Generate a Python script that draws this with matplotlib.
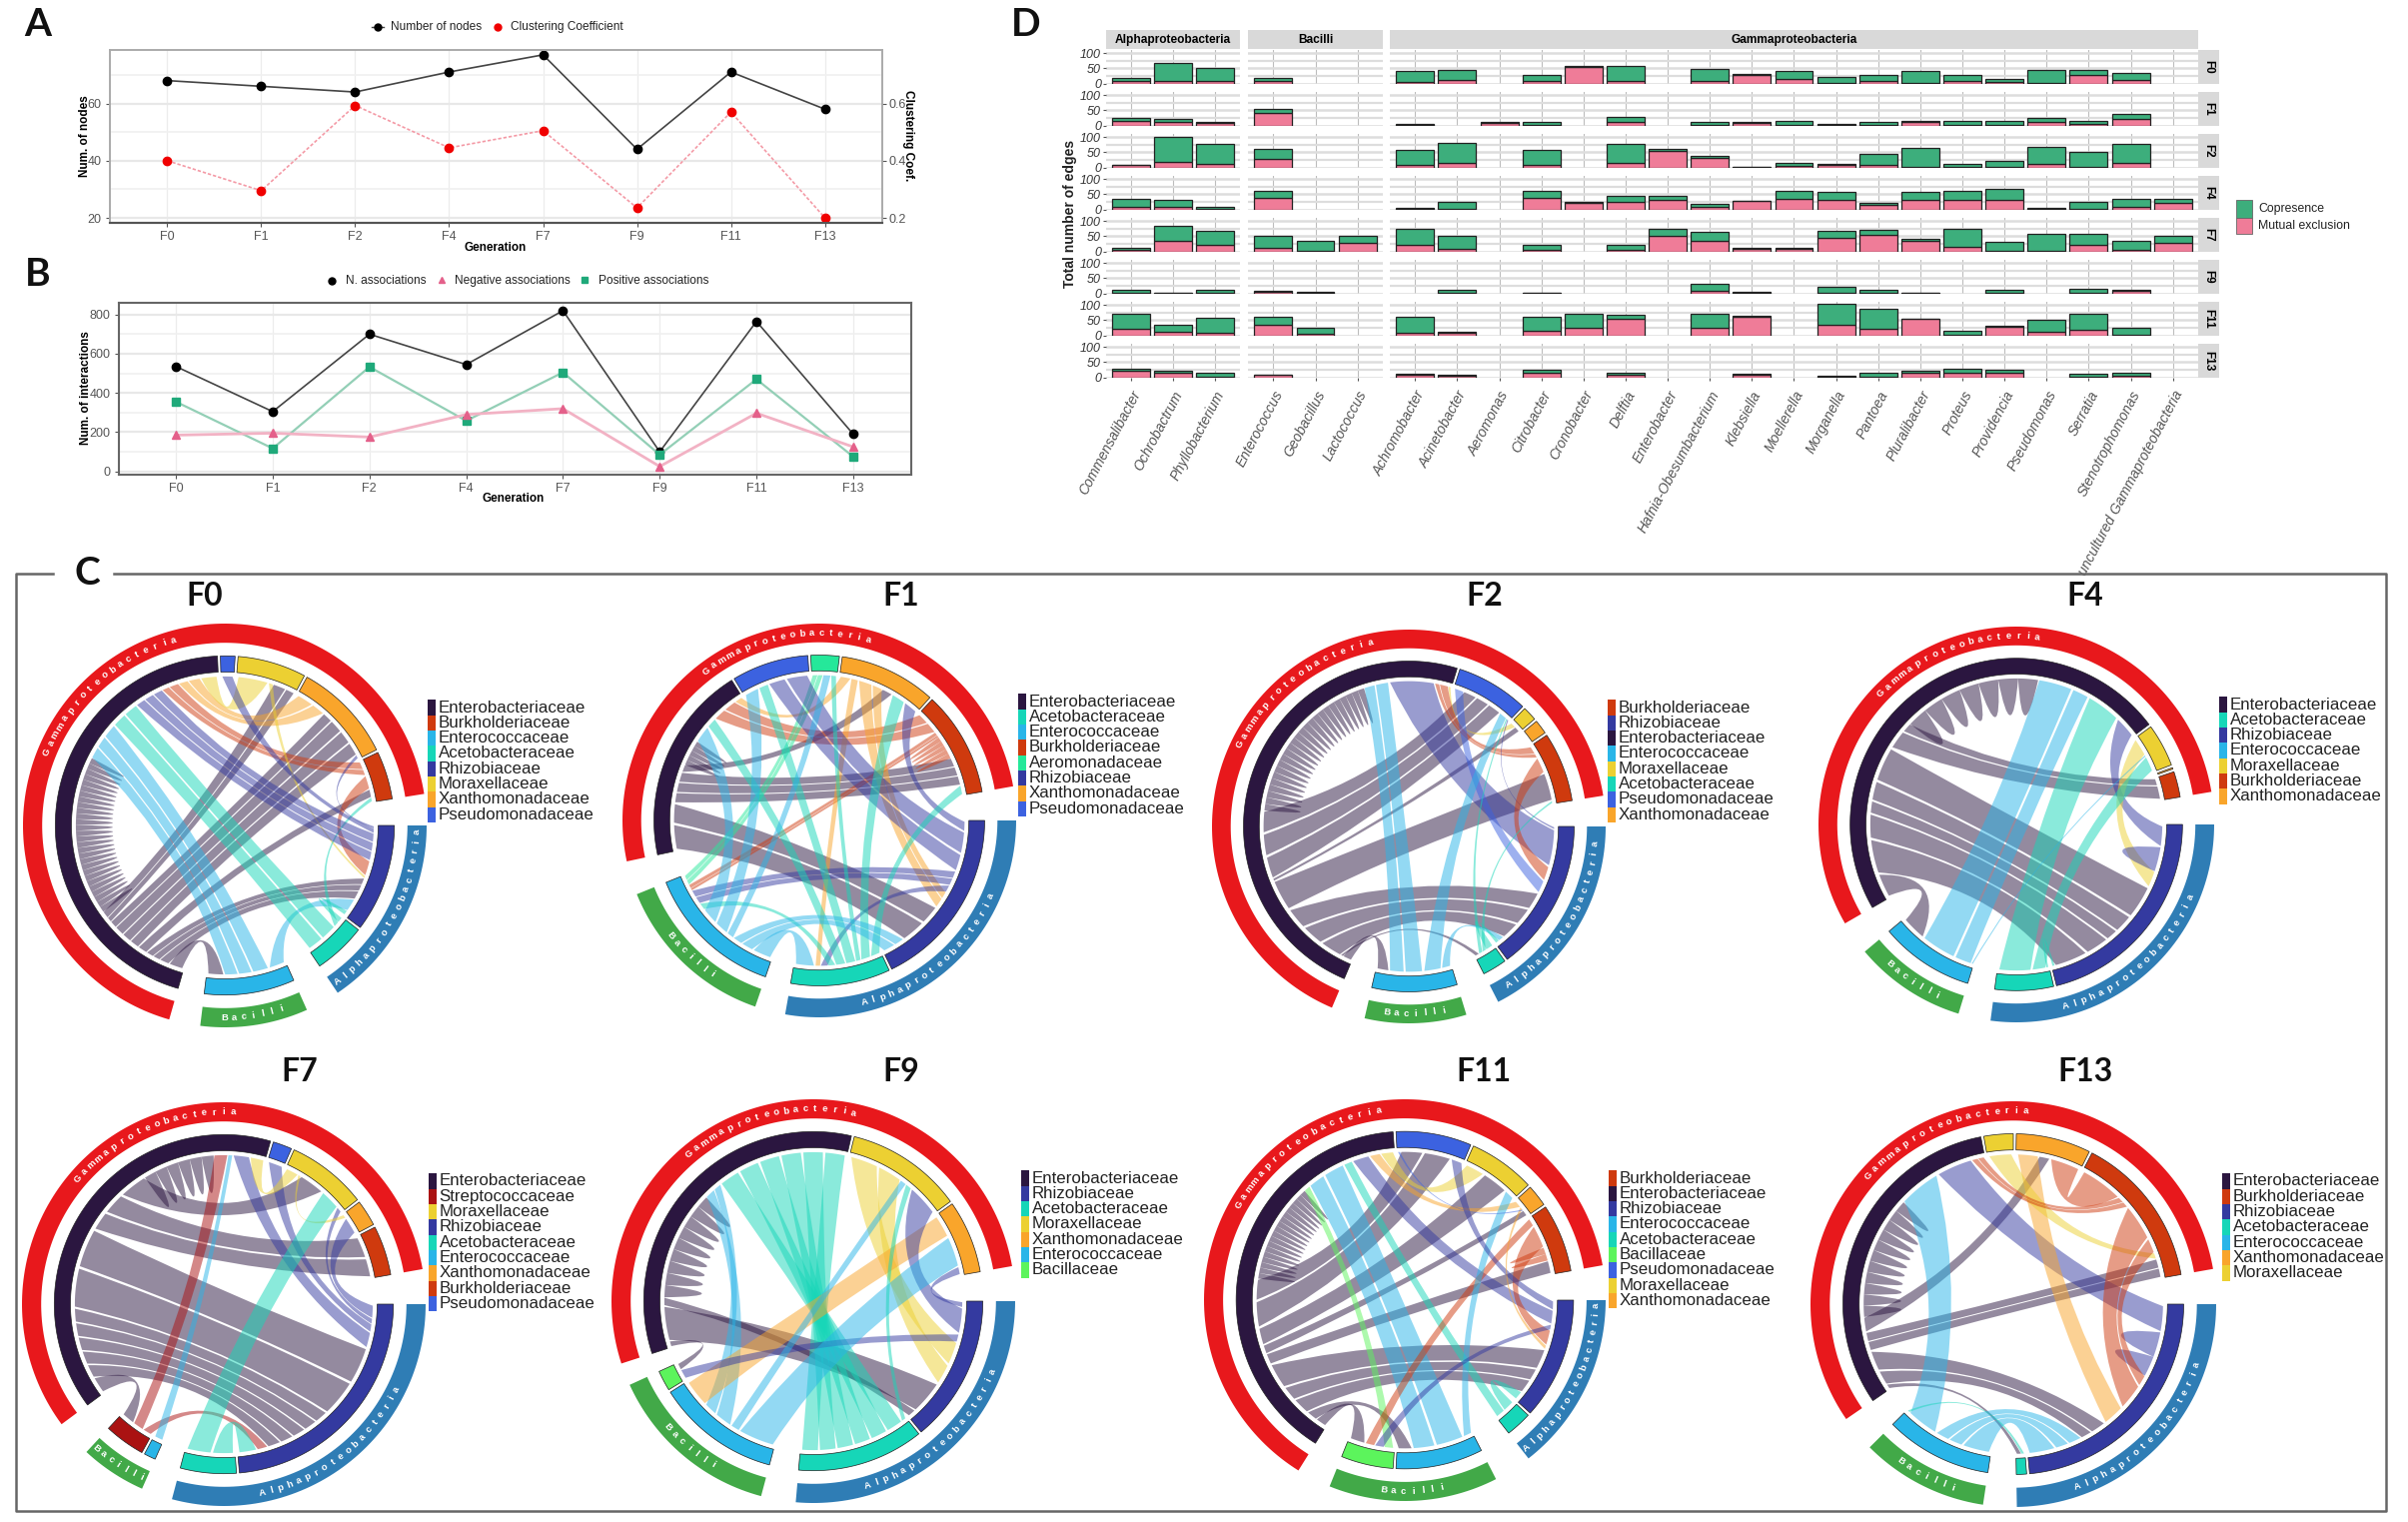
import numpy as np
import matplotlib
matplotlib.use("Agg")
import matplotlib.pyplot as plt
from matplotlib.patches import PathPatch, Rectangle
from matplotlib.path import Path

plt.rcParams['font.family'] = ['Liberation Sans', 'DejaVu Sans']

W, H = 2410, 1523

# panel A / B
generations = ["F0", "F1", "F2", "F4", "F7", "F9", "F11", "F13"]
num_nodes = [68, 66, 64, 71, 77, 44, 71, 58]
clustering = [0.40, 0.295, 0.593, 0.445, 0.505, 0.235, 0.57, 0.2]
n_assoc = [535, 305, 700, 545, 820, 100, 765, 190]
neg_assoc = [185, 195, 175, 290, 320, 25, 297, 125]
pos_assoc = [355, 117, 533, 258, 505, 85, 470, 75]

# panel D
genus_alpha = ["Commensalibacter", "Ochrobactrum", "Phyllobacterium"]
genus_bacilli = ["Enterococcus", "Geobacillus", "Lactococcus"]
genus_gamma = ["Achromobacter", "Acinetobacter", "Aeromonas", "Citrobacter", "Cronobacter",
               "Delftia", "Enterobacter", "Hafnia-Obesumbacterium", "Klebsiella", "Moellerella",
               "Morganella", "Pantoea", "Pluralibacter", "Proteus", "Providencia", "Pseudomonas",
               "Serratia", "Stenotrophomonas", "uncultured Gammaproteobacteria"]

mutual_f0 = [10, 8, 9, 10, 0, 0, 5, 12, 0, 10, 55, 10, 0, 10, 27, 15, 2, 9, 1, 9, 6, 1, 28, 12, 0]
copres_f0 = [8, 59, 41, 8, 0, 0, 36, 33, 0, 17, 2, 47, 0, 38, 5, 26, 18, 19, 40, 19, 8, 42, 17, 23, 0]
mutual_f1 = [16, 11, 8, 41, 0, 0, 2, 0, 9, 3, 0, 11, 0, 1, 7, 2, 3, 2, 13, 2, 2, 12, 4, 20, 0]
copres_f1 = [8, 9, 4, 13, 0, 0, 2, 0, 2, 8, 0, 16, 0, 12, 4, 14, 3, 9, 3, 14, 14, 12, 12, 17, 0]
mutual_f2 = [7, 17, 12, 27, 0, 0, 8, 15, 0, 7, 0, 14, 55, 32, 1, 5, 8, 10, 1, 3, 3, 12, 2, 14, 0]
copres_f2 = [2, 84, 65, 34, 0, 0, 50, 67, 0, 51, 0, 64, 6, 7, 2, 10, 5, 35, 63, 8, 17, 56, 49, 64, 0]
mutual_f4 = [7, 8, 3, 37, 0, 0, 3, 1, 0, 37, 22, 24, 31, 9, 28, 34, 30, 16, 33, 33, 33, 2, 3, 10, 22]
copres_f4 = [28, 23, 4, 24, 0, 0, 3, 24, 0, 24, 3, 22, 15, 8, 1, 28, 27, 7, 24, 27, 34, 2, 21, 26, 14]
mutual_f7 = [6, 34, 20, 12, 1, 28, 20, 8, 0, 5, 0, 4, 52, 34, 9, 10, 43, 55, 35, 16, 1, 1, 20, 5, 28]
copres_f7 = [6, 51, 47, 39, 35, 23, 54, 43, 0, 18, 0, 17, 22, 31, 3, 3, 23, 16, 7, 58, 32, 56, 37, 31, 23]
mutual_f9 = [1, 1, 1, 4, 2, 0, 0, 1, 0, 1, 0, 0, 0, 9, 3, 0, 1, 2, 2, 0, 1, 0, 2, 8, 0]
copres_f9 = [12, 2, 12, 6, 2, 0, 0, 11, 0, 2, 0, 0, 0, 21, 3, 0, 19, 9, 1, 0, 10, 0, 13, 3, 0]
mutual_f11 = [22, 12, 10, 35, 5, 0, 10, 9, 0, 15, 25, 55, 0, 25, 60, 0, 35, 22, 54, 1, 29, 12, 18, 3, 0]
copres_f11 = [49, 22, 47, 25, 21, 0, 50, 3, 0, 45, 47, 12, 0, 46, 3, 0, 70, 64, 1, 14, 1, 38, 53, 23, 0]
mutual_f13 = [21, 15, 3, 7, 0, 0, 7, 4, 0, 14, 0, 7, 0, 0, 9, 0, 2, 1, 15, 16, 14, 0, 2, 4, 0]
copres_f13 = [7, 6, 11, 2, 0, 0, 4, 5, 0, 10, 0, 7, 0, 0, 3, 0, 3, 14, 8, 12, 12, 0, 10, 11, 0]

# panel C: short names for the families
ENT, BUR, ENC, ACE, RHI = "Enterobacteriaceae", "Burkholderiaceae", "Enterococcaceae", "Acetobacteraceae", "Rhizobiaceae"
MOR, XAN, PSE, AER, BAC, STR = "Moraxellaceae", "Xanthomonadaceae", "Pseudomonadaceae", "Aeromonadaceae", "Bacillaceae", "Streptococcaceae"

family_color = {ENT: "#2b1640", BUR: "#cf3a0e", ENC: "#29b5e8", ACE: "#16d6b8", RHI: "#343aa0", MOR: "#ecd032",
                XAN: "#f9a52b", PSE: "#3c62e0", AER: "#25e89a", BAC: "#5cf45c", STR: "#aa1212"}
family_group = {ENT: "Gammaproteobacteria", BUR: "Gammaproteobacteria", MOR: "Gammaproteobacteria",
                XAN: "Gammaproteobacteria", PSE: "Gammaproteobacteria", AER: "Gammaproteobacteria",
                RHI: "Alphaproteobacteria", ACE: "Alphaproteobacteria",
                ENC: "Bacilli", BAC: "Bacilli", STR: "Bacilli"}
group_color = {"Gammaproteobacteria": "#e8181c", "Alphaproteobacteria": "#2f7db5", "Bacilli": "#42a948"}

# sector sizes in degrees, clockwise from the start of Gammaproteobacteria
f0_sectors = [(ENT, 161.5), (PSE, 5), (MOR, 23.5), (XAN, 34.5), (BUR, 16.5), (RHI, 37), (ACE, 18), (ENC, 31)]
f1_sectors = [(ENT, 70), (PSE, 27), (AER, 10), (XAN, 34), (BUR, 37), (RHI, 64), (ACE, 35), (ENC, 49)]
f2_sectors = [(ENT, 174), (PSE, 25.5), (MOR, 5), (XAN, 5), (BUR, 24.5), (RHI, 53.5), (ACE, 8.5), (ENC, 30)]
f4_sectors = [(ENT, 173), (MOR, 15), (XAN, 0.5), (BUR, 9), (RHI, 76), (ACE, 20.5), (ENC, 33)]
f7_sectors = [(ENT, 142.5), (PSE, 6.5), (MOR, 27.5), (XAN, 9), (BUR, 17), (RHI, 84.7), (ACE, 19.2), (ENC, 4), (STR, 14)]
f9_sectors = [(ENT, 121), (MOR, 40), (XAN, 25), (RHI, 50.5), (ACE, 43.5), (ENC, 42.5), (BAC, 7)]
f11_sectors = [(ENT, 144), (PSE, 26), (MOR, 23), (XAN, 7.5), (BUR, 23.5), (RHI, 42), (ACE, 9), (ENC, 30), (BAC, 18)]
f13_sectors = [(ENT, 113.5), (MOR, 10), (XAN, 25.5), (BUR, 52.5), (RHI, 84.5), (ACE, 3.5), (ENC, 36.5)]

# links: from family, to family, weight
f0_links = [(ENT, ENT, 65), (ENT, ENC, 6), (ENT, RHI, 4), (ENT, RHI, 3), (ENT, RHI, 3), (ENT, BUR, 4), (ENT, XAN, 4),
            (ENT, XAN, 4), (ENT, XAN, 4), (ENT, XAN, 3), (ENT, MOR, 2), (ENT, MOR, 3), (BUR, ENT, 4), (BUR, ENT, 3),
            (BUR, RHI, 7), (XAN, ENT, 5), (XAN, ENT, 4), (MOR, ENT, 7), (MOR, RHI, 1), (ENC, ENT, 6), (ENC, ENT, 5),
            (ENC, ENT, 5), (ENC, RHI, 6), (ACE, ENT, 6), (ACE, ENT, 6), (ACE, RHI, 2), (ACE, BUR, 2), (RHI, ENT, 4),
            (RHI, ENT, 4), (RHI, ENT, 4), (RHI, PSE, 2), (RHI, XAN, 1)]
f1_links = [(ENT, ENT, 10), (ENT, RHI, 10), (ENT, RHI, 8), (ENT, BUR, 4), (ENT, BUR, 4), (ENT, BUR, 4), (ENT, XAN, 3),
            (BUR, ENT, 5), (BUR, ENT, 5), (BUR, ENC, 1.5), (BUR, ENC, 1), (BUR, BUR, 10), (XAN, ENT, 3), (XAN, RHI, 4),
            (XAN, RHI, 3), (XAN, ACE, 2), (AER, ENC, 2), (AER, ENC, 2), (RHI, PSE, 9), (RHI, PSE, 7), (RHI, XAN, 4),
            (RHI, ENC, 3), (RHI, ENC, 3), (RHI, ACE, 3), (ACE, ENT, 4), (ACE, PSE, 4), (ACE, AER, 2), (ACE, XAN, 4),
            (ACE, BUR, 4), (ACE, ENC, 3), (ENC, ENT, 7), (ENC, PSE, 6), (ENC, AER, 3), (ENC, RHI, 5), (ENC, RHI, 4), (ENC, ACE, 8)]
f2_links = [(ENT, ENT, 72), (ENT, ENC, 4), (ENT, RHI, 10), (ENT, RHI, 10), (ENT, RHI, 10), (ENT, BUR, 14), (ENT, PSE, 10),
            (ENT, PSE, 10), (ENT, PSE, 10), (ENT, MOR, 1), (ENT, ACE, 1), (RHI, ENT, 20), (MOR, ENT, 1), (BUR, ENT, 4),
            (BUR, ENT, 2), (ENC, ENT, 6), (ENC, ENT, 5), (PSE, RHI, 7), (RHI, PSE, 1), (ENC, PSE, 6), (ACE, PSE, 1),
            (BUR, RHI, 8), (ENC, RHI, 3), (ACE, RHI, 2), (ACE, BUR, 1)]
f4_links = [(ENT, ENT, 55), (ENT, ENC, 10), (ENT, RHI, 14), (ENT, RHI, 10), (ENT, RHI, 5), (ENT, RHI, 8), (ENT, RHI, 14),
            (ENT, BUR, 8), (ENT, BUR, 4), (ENC, ENT, 7), (ACE, ENT, 14), (ENC, ENT, 14), (RHI, ENT, 9), (MOR, RHI, 7),
            (ACE, MOR, 6), (RHI, RHI, 10), (ENC, MOR, 0.5), (ACE, RHI, 1)]
f7_links = [(ENT, ENT, 25), (ENT, STR, 6), (ENT, RHI, 5), (ENT, RHI, 5), (ENT, RHI, 5), (ENT, RHI, 5), (ENT, RHI, 5),
            (ENT, RHI, 14), (ENT, RHI, 14), (ENT, BUR, 7), (ENT, BUR, 8), (ENT, MOR, 10), (RHI, ENT, 6), (RHI, PSE, 3),
            (RHI, MOR, 2), (RHI, XAN, 5), (MOR, ENT, 5), (MOR, XAN, 1), (STR, ENT, 5), (STR, RHI, 4), (ENC, ENT, 1.5),
            (ACE, MOR, 8), (ACE, RHI, 7)]
f9_links = [(ENT, ENT, 40), (ENT, BAC, 2), (ENT, RHI, 13), (ENT, RHI, 3), (ACE, ENT, 8), (ACE, ENT, 8), (ACE, ENT, 8),
            (ACE, ENT, 8), (ACE, ENT, 8), (ACE, ENT, 8), (ENC, ENT, 4), (ENC, ENT, 3), (MOR, RHI, 9), (MOR, RHI, 8),
            (XAN, ENC, 6), (RHI, MOR, 10), (RHI, XAN, 2), (RHI, BAC, 3), (ENC, XAN, 8), (ENC, MOR, 2), (ACE, MOR, 2)]
f11_links = [(ENT, ENT, 45), (ENT, BAC, 5), (ENT, ENC, 5), (ENT, RHI, 8), (ENT, RHI, 7), (ENT, RHI, 12), (ENT, BUR, 5),
             (ENT, XAN, 4), (ENT, MOR, 8), (ENT, PSE, 12), (ENT, PSE, 10), (RHI, ENT, 8), (ENC, ENT, 10), (ENC, ENT, 8),
             (ACE, ENT, 4), (BAC, ENT, 3), (MOR, ENT, 6), (XAN, ENT, 5), (BUR, BAC, 3), (BUR, RHI, 9), (BUR, BUR, 5),
             (ENC, MOR, 3), (RHI, BAC, 3), (RHI, PSE, 5), (XAN, RHI, 2), (ACE, RHI, 5), (PSE, XAN, 1)]
f13_links = [(ENT, ENT, 40), (ENT, ACE, 1.5), (ENT, RHI, 5), (ENT, RHI, 7), (ENT, BUR, 3), (ENT, BUR, 3), (ENT, XAN, 5),
             (RHI, ENT, 12), (RHI, RHI, 11), (RHI, RHI, 9), (ENC, ENT, 14), (ENC, RHI, 12), (ENC, RHI, 6), (ENC, RHI, 6),
             (XAN, RHI, 10), (MOR, BUR, 2), (BUR, ENT, 2), (BUR, ENT, 2), (BUR, XAN, 14), (BUR, RHI, 12), (BUR, RHI, 5),
             (ACE, ENC, 1)]

# legends, in the order of the picture
f0_legend = [ENT, BUR, ENC, ACE, RHI, MOR, XAN, PSE]
f1_legend = [ENT, ACE, ENC, BUR, AER, RHI, XAN, PSE]
f2_legend = [BUR, RHI, ENT, ENC, MOR, ACE, PSE, XAN]
f4_legend = [ENT, ACE, RHI, ENC, MOR, BUR, XAN]
f7_legend = [ENT, STR, MOR, RHI, ACE, ENC, XAN, BUR, PSE]
f9_legend = [ENT, RHI, ACE, MOR, XAN, ENC, BAC]
f11_legend = [BUR, ENT, RHI, ENC, ACE, BAC, PSE, MOR, XAN]
f13_legend = [ENT, BUR, RHI, ACE, ENC, XAN, MOR]


def axes_px(fig, x0, y0, x1, y1):
    return fig.add_axes([x0 / W, 1 - y1 / H, (x1 - x0) / W, (y1 - y0) / H])


def style_line_axes(ax, xlim, ylim, major, minor):
    ax.set_xlim(*xlim)
    ax.set_ylim(*ylim)
    ax.set_xticks(range(len(generations)))
    ax.set_xticklabels(generations)
    ax.set_yticks(major)
    ax.set_yticks(minor, minor=True)
    ax.grid(True, which="major", axis="y", color="#e8e8e8", lw=1.6)
    ax.grid(True, which="major", axis="x", color="#ececec", lw=0.9)
    ax.grid(True, which="minor", axis="y", color="#f0f0f0", lw=1.2)
    ax.set_axisbelow(True)
    ax.tick_params(axis="both", which="major", labelsize=9, labelcolor="#555555", color="#555555", length=3, pad=3)
    ax.tick_params(axis="y", which="minor", length=0)


fig = plt.figure(figsize=(W / 100, H / 100), dpi=100)
ov = fig.add_axes([0, 0, 1, 1], zorder=5)
ov.set_xlim(0, W)
ov.set_ylim(H, 0)
ov.axis("off")

# --- A
ax_a = axes_px(fig, 110, 50, 883, 223)
style_line_axes(ax_a, (-0.61, 7.61), (18.26, 78.7), [20, 40, 60], [30, 50, 70])
ax_a.plot(range(8), num_nodes, color="#444444", lw=1.2, marker="o", ms=6, mfc="black", mec="black")
ax_a2 = ax_a.twinx()
ax_a2.set_ylim(0.1826, 0.787)
ax_a2.set_yticks([0.2, 0.4, 0.6])
ax_a2.tick_params(axis="y", labelsize=9, labelcolor="#555555", color="#555555", length=3, pad=2)
ax_a2.plot(range(8), clustering, color="#f49aa6", lw=1.2, ls=(0, (2, 1.2)), marker="o", ms=6, mfc="#f00000", mec="#f00000")
for a in (ax_a, ax_a2):
    for s in a.spines.values():
        s.set_color("#aaaaaa")
        s.set_linewidth(1.2)
    a.spines["bottom"].set_color("#555555")
    a.spines["bottom"].set_linewidth(1.5)

ov.plot([372, 384], [27, 27], color="#444444", lw=1)
ov.plot([378], [27], "o", color="black", ms=5)
ov.text(391, 27, "Number of nodes", fontsize=8.6, color="#222222", va="center")
ov.plot([498], [27], "o", color="#f00000", ms=5)
ov.text(511, 27, "Clustering Coefficient", fontsize=8.6, color="#222222", va="center")
ov.text(85, 136, "Num. of nodes", fontsize=8.5, fontweight="bold", rotation=90, ha="center", va="center")
ov.text(909, 136, "Clustering Coef.", fontsize=8.5, fontweight="bold", rotation=270, ha="center", va="center")
ov.text(496, 248, "Generation", fontsize=8.5, fontweight="bold", ha="center", va="center")

# --- B
ax_b = axes_px(fig, 119, 303, 912, 475)
style_line_axes(ax_b, (-0.59, 7.6), (-17, 860), [0, 200, 400, 600, 800], [100, 300, 500, 700])
ax_b.plot(range(8), n_assoc, color="#444444", lw=1.2, marker="o", ms=6, mfc="black", mec="black", zorder=3)
ax_b.plot(range(8), pos_assoc, color="#93cfb6", lw=1.6, marker="s", ms=6, mfc="#1fa97a", mec="#1fa97a", zorder=4)
ax_b.plot(range(8), neg_assoc, color="#f2b2c4", lw=2, marker="^", ms=6, mfc="#e4608a", mec="#e4608a", zorder=5)
for s in ax_b.spines.values():
    s.set_color("#666666")
    s.set_linewidth(1.5)
ov.plot([332], [281], "o", color="black", ms=5)
ov.text(346, 281, "N. associations", fontsize=8.6, color="#222222", va="center")
ov.plot([442], [280], "^", color="#e4608a", ms=5)
ov.text(455, 281, "Negative associations", fontsize=8.6, color="#222222", va="center")
ov.plot([585], [280], "s", color="#1fa97a", ms=5)
ov.text(599, 281, "Positive associations", fontsize=8.6, color="#222222", va="center")
ov.text(86, 388, "Num. of interactions", fontsize=8.5, fontweight="bold", rotation=90, ha="center", va="center")
ov.text(514, 499, "Generation", fontsize=8.5, fontweight="bold", ha="center", va="center")

# --- D
d_rows = [("F0", mutual_f0, copres_f0), ("F1", mutual_f1, copres_f1), ("F2", mutual_f2, copres_f2),
          ("F4", mutual_f4, copres_f4), ("F7", mutual_f7, copres_f7), ("F9", mutual_f9, copres_f9),
          ("F11", mutual_f11, copres_f11), ("F13", mutual_f13, copres_f13)]
d_cols = [("Alphaproteobacteria", genus_alpha, 1107, 1241, 0), ("Bacilli", genus_bacilli, 1249, 1384, 3),
          ("Gammaproteobacteria", genus_gamma, 1391, 2200, 6)]
GREEN, PINK = "#3dae7c", "#ef7c98"

for r, (gen, mutual, copres) in enumerate(d_rows):
    top = 50 + 42 * r
    for c, (name, genera, x0, x1, first) in enumerate(d_cols):
        ax = axes_px(fig, x0, top, x1, top + 34.2)
        m = np.array(mutual[first:first + len(genera)], dtype=float)
        k = np.array(copres[first:first + len(genera)], dtype=float)
        x = np.arange(len(genera))
        shown = (m + k) > 0
        ax.bar(x[shown], m[shown], width=0.9, color=PINK, edgecolor="#222222", lw=0.9, zorder=3)
        ax.bar(x[shown], k[shown], bottom=m[shown], width=0.9, color=GREEN, edgecolor="#222222", lw=0.9, zorder=3)
        ax.set_xlim(-0.6, len(genera) - 0.4)
        ax.set_ylim(-2, 110)
        ax.set_yticks([0, 50, 100])
        ax.set_yticks([25, 75], minor=True)
        ax.grid(True, which="major", axis="y", color="#dddddd", lw=1.8)
        ax.grid(True, which="minor", axis="y", color="#dddddd", lw=1.6)
        ax.grid(True, which="major", axis="x", color="#bdbdbd", lw=0.8)
        ax.set_axisbelow(True)
        ax.set_xticks(x)
        for s in ax.spines.values():
            s.set_visible(False)
        ax.tick_params(axis="y", which="minor", length=0)
        ax.tick_params(axis="y", labelsize=9, labelcolor="#333333", color="#555555", length=2.5, pad=1, left=c == 0, labelleft=c == 0)
        for lab in ax.get_yticklabels():
            lab.set_fontstyle("italic")
        if r == len(d_rows) - 1:
            ax.set_xticklabels(genera, rotation=62, ha="right", va="top", rotation_mode="anchor",
                               fontsize=10, fontstyle="italic", color="#555555")
            ax.tick_params(axis="x", length=2.5, color="#555555", pad=5)
        else:
            ax.tick_params(axis="x", length=0, labelbottom=False)
    ov.add_patch(Rectangle((2200, top), 21, 34.2, fc="#d9d9d9", ec="none"))
    ov.text(2210.5, top + 17, gen, fontsize=8.5, fontweight="bold", rotation=270, ha="center", va="center")

for name, genera, x0, x1, first in d_cols:
    ov.add_patch(Rectangle((x0, 30), x1 - x0, 19, fc="#d9d9d9", ec="none"))
    ov.text((x0 + x1) / 2, 40, name, fontsize=8.6, fontweight="bold", ha="center", va="center")
ov.text(1071, 214, "Total number of edges", fontsize=10, fontweight="bold", color="#222222", rotation=90, ha="center", va="center")
ov.add_patch(Rectangle((2238, 200), 16, 18, fc=GREEN, ec="#666666", lw=0.6))
ov.add_patch(Rectangle((2238, 218), 16, 16, fc=PINK, ec="#666666", lw=0.6))
ov.text(2260, 209, "Copresence", fontsize=8.8, color="#222222", va="center")
ov.text(2260, 226, "Mutual exclusion", fontsize=8.8, color="#222222", va="center")


# --- C, chord diagrams
def pt(cx, cy, r, deg):
    t = np.radians(deg)
    return cx + r * np.sin(t), cy - r * np.cos(t)


def arc(cx, cy, r, a, b, step=1.5):
    n = max(2, int(abs(b - a) / step) + 2)
    return [pt(cx, cy, r, d) for d in np.linspace(a, b, n)]


def ring_patch(cx, cy, r0, r1, a, b, color, **kw):
    verts = arc(cx, cy, r1, a, b) + arc(cx, cy, r0, b, a)
    verts.append(verts[0])
    ov.add_patch(PathPatch(Path(verts, closed=True), fc=color, ec=kw.get("ec", "none"), lw=kw.get("lw", 0), zorder=3))


def quad_to(verts, codes, c, p, q, k=0.6):
    ctrl = (c[0] + k * ((p[0] - c[0]) + (q[0] - c[0])) / 2, c[1] + k * ((p[1] - c[1]) + (q[1] - c[1])) / 2)
    verts += [ctrl, q]
    codes += [Path.CURVE3, Path.CURVE3]


def ribbon(cx, cy, r, a1, a2, b1, b2, color):
    c = (cx, cy)
    top = arc(cx, cy, r, a1, a2)
    far = arc(cx, cy, r, b1, b2)
    verts = list(top)
    codes = [Path.MOVETO] + [Path.LINETO] * (len(top) - 1)
    quad_to(verts, codes, c, top[-1], far[0])
    verts += far[1:]
    codes += [Path.LINETO] * (len(far) - 1)
    quad_to(verts, codes, c, far[-1], top[0])
    ov.add_patch(PathPatch(Path(verts, codes), fc=color, ec="none", alpha=0.5, zorder=2))


def self_fan(cx, cy, r, a, b, color, tooth):
    n = max(1, int(round((b - a) / tooth)))
    edges = np.linspace(a, b, n + 1)
    for e0, e1 in zip(edges[:-1], edges[1:]):
        top = arc(cx, cy, r, e0, e1, step=0.5)
        verts = list(top)
        codes = [Path.MOVETO] + [Path.LINETO] * (len(top) - 1)
        p = pt(cx, cy, 0.5 * r, (e0 + e1) / 2)
        verts += [p, top[0]]
        codes += [Path.CURVE3, Path.CURVE3]
        ov.add_patch(PathPatch(Path(verts, codes), fc=color, ec="none", alpha=0.5, zorder=2))


def group_label(cx, cy, r, name, a, b):
    mid = (a + b) / 2
    bottom = 90 < (mid % 360) < 270
    step = min(2.9, (b - a - 3) / (len(name) - 1))
    offs = (np.arange(len(name)) - (len(name) - 1) / 2) * step
    for ch, off in zip(name, offs):
        d = mid - off if bottom else mid + off
        x, y = pt(cx, cy, r, d)
        rot = 180 - d if bottom else -d
        ov.text(x, y, ch, color="white", fontsize=6.8, fontweight="bold", ha="center", va="center",
                rotation=rot, rotation_mode="anchor", zorder=4)


def chord_panel(title, tx, ty, cx, cy, R, start, sectors, links, gaps, tooth, legend, lx, ly, twist=False):
    # sector angles from sizes
    ang = {}
    pos = start
    prev = None
    g_iter = iter(gaps)
    spans = {}
    for fam, size in sectors:
        grp = family_group[fam]
        if prev is not None:
            pos += 1 if grp == prev else next(g_iter)
        ang[fam] = (pos, pos + size)
        spans.setdefault(grp, [pos, pos + size])[1] = pos + size
        pos += size
        prev = grp

    for fam, (a, b) in ang.items():
        ring_patch(cx, cy, 0.76 * R, 0.84 * R, a, b, family_color[fam], ec="#222222", lw=0.5)
    for grp, (a, b) in spans.items():
        ring_patch(cx, cy, 0.905 * R, R, a, b, group_color[grp])
        group_label(cx, cy, 0.952 * R, grp, a, b)

    # where each link sits inside its two sectors: own links, then incoming ones
    rc = 0.738 * R
    ends = {}
    for fam, (a, b) in ang.items():
        mid = (a + b) / 2
        own, selfs, inc = [], [], []
        for i, (f, t, w) in enumerate(links):
            if f == fam and t == fam:
                selfs.append((0, i, "s", w))
            elif f == fam:
                own.append((-((sum(ang[t]) / 2 - mid) % 360), i, "f", w))
            elif t == fam:
                inc.append((-((sum(ang[f]) / 2 - mid) % 360), i, "t", w))
        own.sort(key=lambda s: (s[0], s[1]))
        # same pair: parallel strands unless the panel twists them through the middle
        inc.sort(key=lambda s: (s[0], s[1] if twist else -s[1]))
        slots = own + selfs + inc
        if not slots:
            continue
        total = sum(s[3] for s in slots)
        span = (b - a) - 0.6
        p = a + 0.3
        for _, i, role, w in slots:
            width = w / total * span
            pad = min(0.06 * width, 0.5) if role != "s" else 0
            ends[(i, role)] = (p + pad, p + width - pad)
            p += width

    for i, (f, t, w) in enumerate(links):
        if f == t:
            a0, a1 = ends[(i, "s")]
            self_fan(cx, cy, rc, a0, a1, family_color[f], 100 if f == RHI else tooth)
        else:
            a0, a1 = ends[(i, "f")]
            b0, b1 = ends[(i, "t")]
            ribbon(cx, cy, rc, a0, a1, b0, b1, family_color[f])

    ov.text(tx, ty, title, fontsize=23, fontweight="bold", family="Lato", ha="center", va="center", color="#111111")
    for j, fam in enumerate(legend):
        y = ly + j * 15.3
        ov.add_patch(Rectangle((lx, y - 7.6), 7.5, 15.3, fc=family_color[fam], ec="none"))
        ov.text(lx + 10.5, y, fam, fontsize=12.2, color="#222222", va="center")


chord_panel("F0", 205, 596, 225, 826, 202, 196, f0_sectors, f0_links, [9, 10, 9], 2.2, f0_legend, 428, 708)
chord_panel("F1", 902, 596, 820, 821, 197, 258, f1_sectors, f1_links, [10, 9, 10], 2.0, f1_legend, 1019, 702)
chord_panel("F2", 1486, 596, 1410, 827, 197, 203, f2_sectors, f2_links, [9, 10, 10], 2.6, f2_legend, 1609, 708)
chord_panel("F4", 2087, 596, 2018, 825, 198, 240, f4_sectors, f4_links, [9.5, 9.5, 10], 7.5, f4_legend, 2221, 705)
chord_panel("F7", 300, 1072, 224, 1305, 202, 233.5, f7_sectors, f7_links, [10, 9, 10.5], 5, f7_legend, 429, 1182)
chord_panel("F9", 902, 1072, 814, 1302, 202, 252, f9_sectors, f9_links, [10, 10, 6.5], 4.5, f9_legend, 1022, 1179, twist=True)
chord_panel("F11", 1485, 1072, 1406, 1301, 201, 212, f11_sectors, f11_links, [10, 11, 10], 2.2, f11_legend, 1610, 1179)
chord_panel("F13", 2087, 1072, 2015, 1305, 203, 235.5, f13_sectors, f13_links, [10, 9.6, 10.5], 4.5, f13_legend, 2224, 1182)

# frame around C, open behind the letter
ov.plot([53, 16, 16, 2388, 2388, 114], [574, 574, 1512, 1512, 574, 574], color="#666666", lw=1.8, zorder=1)

for letter, x, y in [("A", 38, 24), ("B", 38, 274), ("C", 87, 573), ("D", 1027, 24)]:
    ov.text(x, y, letter, fontsize=28, fontweight="bold", family="Lato", ha="center", va="center", color="#111111")

fig.savefig("out.png", dpi=100, facecolor="white")
